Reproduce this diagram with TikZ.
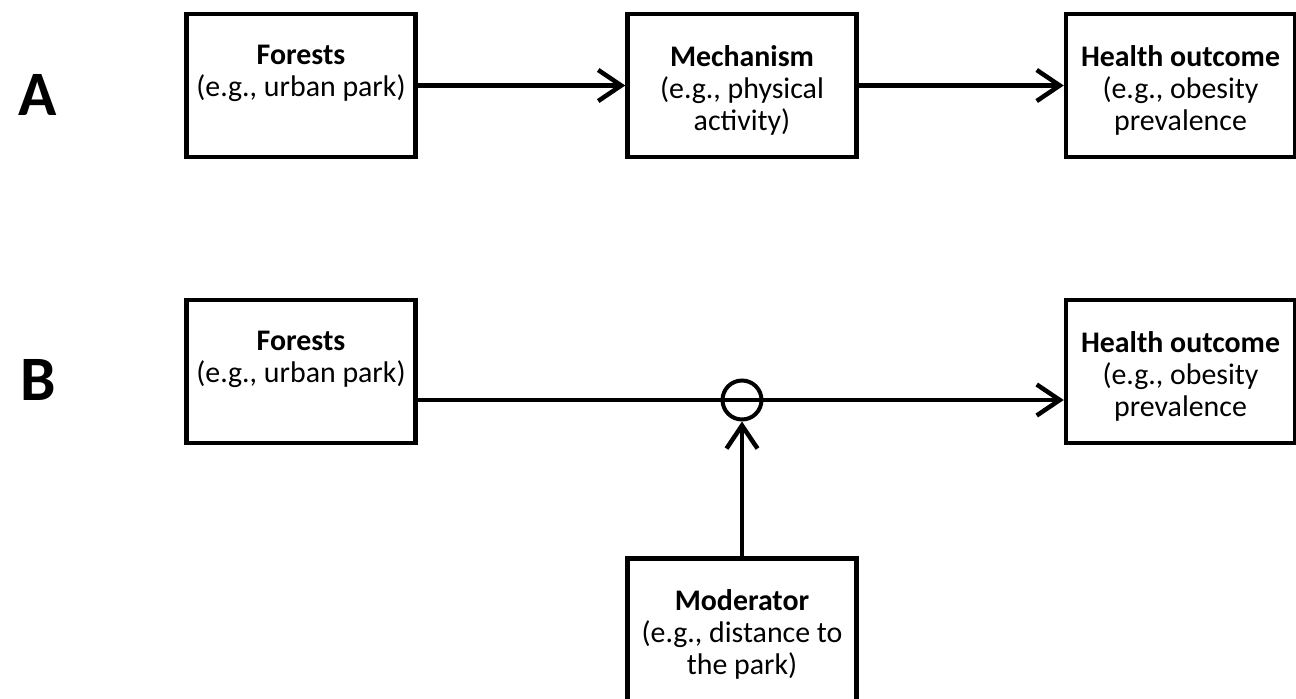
\documentclass[tikz,border=0pt]{standalone}
\usepackage{fontspec}
\setmainfont{Carlito}
\usetikzlibrary{arrows.meta,positioning}

\tikzset{
  box/.style={rectangle, draw=black, line width=.9mm, minimum width=4.58cm, minimum height=2.86cm, inner sep=0mm},
  txt/.style={align=center, anchor=north, inner sep=0mm, font=\fontsize{17}{18.2}\selectfont},
  panel/.style={font=\fontsize{36}{40}\selectfont\bfseries},
  link/.style={line width=.9mm, -{Straight Barb[length=4.6mm,width=6.2mm,line width=.9mm]}}
}

\begin{document}
\begin{tikzpicture}
	\useasboundingbox (0,0) rectangle (25.92,-13.96);

	\node[panel] at (.76,-1.9) (pA) {A};
	\node[panel] at (.76,-7.6) (pB) {B};

	% row A
	\node[box] at (6.02,-1.71) (forA) {};
	\node[txt, below=.66cm of forA.north] (forAt) {\textbf{Forests}\\(e.g., urban park)};

	\node[box] at (14.84,-1.71) (mech) {};
	\node[txt, below=.66cm of mech.north] (mecht) {\textbf{Mechanism}\\(e.g., physical\\activity)};

	\node[box] at (23.61,-1.71) (hoA) {};
	\node[txt, below=.66cm of hoA.north] (hoAt) {\textbf{Health outcome}\\(e.g., obesity\\prevalence};

	\draw[link] (forA) -- (mech);
	\draw[link] (mech) -- (hoA);

	% row B
	\node[box] at (6.02,-7.43) (forB) {};
	\node[txt, below=.66cm of forB.north] (forBt) {\textbf{Forests}\\(e.g., urban park)};

	\node[box] at (23.61,-7.43) (hoB) {};
	\node[txt, below=.66cm of hoB.north] (hoBt) {\textbf{Health outcome}\\(e.g., obesity\\prevalence};

	\node[box] at (14.84,-12.6) (mod) {};
	\node[txt, below=.66cm of mod.north] (modt) {\textbf{Moderator}\\(e.g., distance to\\the park)};

	\node[circle, draw=black, line width=.8mm, minimum size=.78cm, inner sep=0mm] at (14.84,-8) (ring) {};

	\draw[link] (forB.east |- ring) -- (hoB.west |- ring);
	\draw[link] (mod) -- (ring);

\end{tikzpicture}
\end{document}
